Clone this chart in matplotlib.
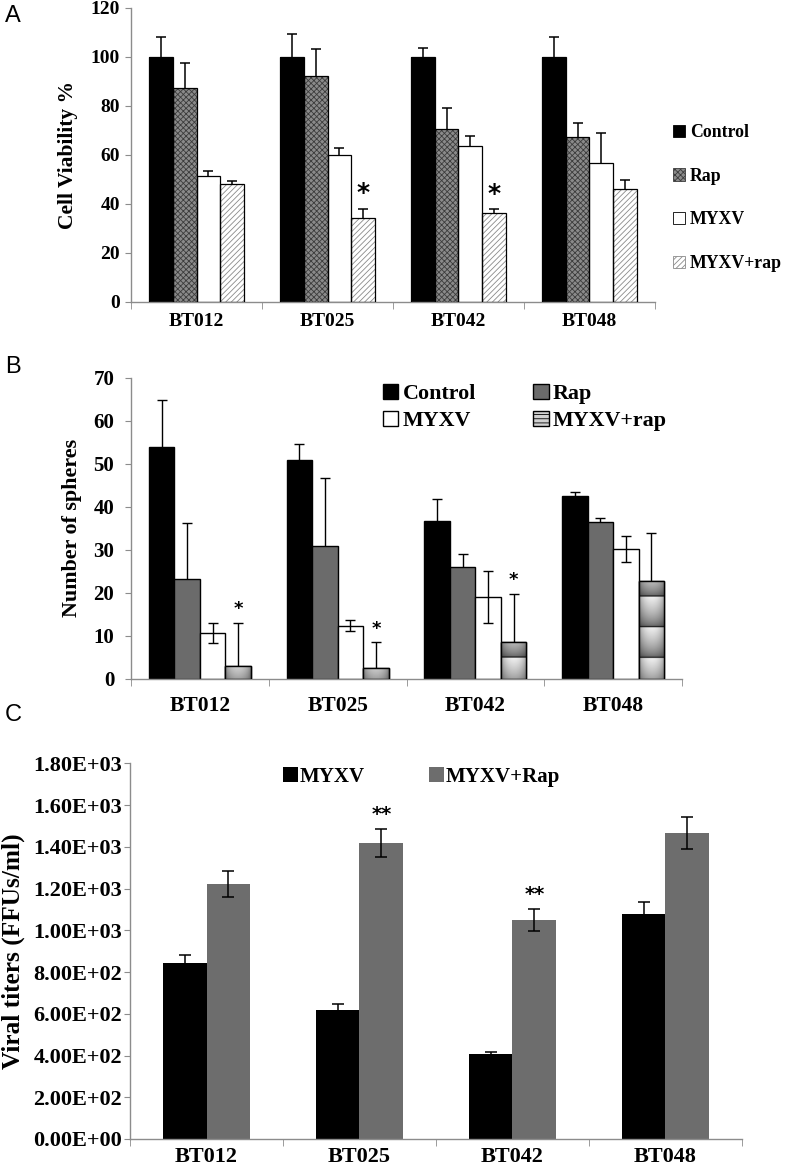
"""
plot.py - three-panel figure: cell viability (A), sphere counts (B), viral titers (C).
"""

import matplotlib.pyplot as plt
import numpy as np
from matplotlib.patches import Patch

plt.rcParams["font.family"] = ["Liberation Serif", "DejaVu Serif"]
plt.rcParams["font.weight"] = "bold"
plt.rcParams["axes.labelweight"] = "bold"
plt.rcParams["hatch.linewidth"] = 0.6

lines = ["BT012", "BT025", "BT042", "BT048"]

# panel A: cell viability (%)
a_groups = ["Control", "Rap", "MYXV", "MYXV+rap"]
a_control = [100, 100, 100, 100]
a_rap = [87.2, 92.4, 70.6, 67.5]
a_myxv = [51.6, 60.0, 63.8, 56.9]
a_combo = [48.0, 34.3, 36.5, 46.3]
a_control_err = [8.0, 9.2, 3.5, 8.3]
a_rap_err = [10.5, 11.0, 8.7, 5.6]
a_myxv_err = [2.0, 3.0, 4.0, 12.0]
a_combo_err = [1.5, 3.7, 1.3, 3.3]
a_star = ["", "*", "*", ""]

# panel B: number of spheres
b_groups = ["Control", "Rap", "MYXV", "MYXV+rap"]
b_control = [53.8, 50.9, 36.7, 42.6]
b_rap = [23.3, 30.8, 26.1, 36.4]
b_myxv = [10.6, 12.4, 19.0, 30.2]
b_combo = [3.1, 2.6, 8.7, 22.7]
b_control_err = [10.9, 3.7, 5.2, 0.8]
b_rap_err = [12.9, 15.9, 2.9, 0.9]
b_myxv_err = [2.3, 1.2, 6.0, 3.1]
b_combo_err = [10.0, 6.0, 11.1, 11.2]
b_star = ["*", "*", "*", ""]

# panel C: viral titers (FFUs/ml)
c_groups = ["MYXV", "MYXV+Rap"]
c_myxv = [841, 619, 406, 1077]
c_rap = [1223, 1418, 1049, 1465]
c_myxv_err = [42, 29, 13, 58]
c_rap_err = [62, 68, 51, 77]
c_star = ["", "**", "**", ""]

AXIS_GREY = "#8c8c8c"
x = np.arange(len(lines))


def style_axis(ax, ymax, step, ytick_size, xtick_size, ypad, xpad, fmt=None):
    ax.set_xlim(-0.5, len(lines) - 0.5)
    ax.set_ylim(0, ymax)
    ax.set_yticks(np.arange(0, ymax + step / 2, step))
    if fmt:
        ax.set_yticklabels([fmt(v) for v in ax.get_yticks()])
    ax.set_xticks(x, lines)
    ax.set_xticks(np.arange(-0.5, len(lines)), minor=True)
    ax.tick_params(axis="x", which="major", length=0, labelsize=xtick_size, pad=xpad)
    ax.tick_params(axis="x", which="minor", length=5, color=AXIS_GREY)
    ax.tick_params(axis="y", length=4, color=AXIS_GREY, labelsize=ytick_size, pad=ypad)
    ax.spines[["top", "right"]].set_visible(False)
    for s in ["left", "bottom"]:
        ax.spines[s].set_color(AXIS_GREY)
        ax.spines[s].set_linewidth(1.0)


fig = plt.figure(figsize=(7.86, 11.7), dpi=100)

# ---------------- panel A ----------------
axA = fig.add_axes([0.1667, 0.7419, 0.6666, 0.2513])
w = 0.18
a_vals = [a_control, a_rap, a_myxv, a_combo]
a_errs = [a_control_err, a_rap_err, a_myxv_err, a_combo_err]
a_face = ["black", "#8a8a8a", "white", "white"]
a_hatch = [None, "xxxxxx", None, "//////"]
a_hcol = ["black", "#3c3c3c", "black", "#8a8a8a"]
for i, (vals, errs) in enumerate(zip(a_vals, a_errs)):
    pos = x + (i - 1.5) * w
    axA.bar(pos, vals, w, color=a_face[i], edgecolor=a_hcol[i], hatch=a_hatch[i],
            linewidth=0, zorder=2)
    axA.bar(pos, vals, w, fill=False, edgecolor="black", linewidth=0.9, zorder=3)
    axA.errorbar(pos, vals, yerr=errs, fmt="none", ecolor="black", elinewidth=1.1,
                 capsize=3.5, capthick=1.1, zorder=1)
for j, s in enumerate(a_star):
    if s:
        axA.text(x[j] + 1.5 * w, a_combo[j] + a_combo_err[j] + 1.5, s, ha="center",
                 va="bottom", fontsize=18, family="DejaVu Sans")
style_axis(axA, 120, 20, 14, 14, ypad=4, xpad=8)
axA.set_ylabel("Cell Viability %", fontsize=15.5, labelpad=9)
a_handles = [Patch(facecolor=a_face[i], edgecolor=a_hcol[i] if a_hatch[i] else "black",
                   hatch=a_hatch[i], linewidth=0.6) for i in range(4)]
axA.legend(a_handles, a_groups, loc="upper left", frameon=False, fontsize=12.8,
           bbox_to_anchor=(673 / 786, 1 - 124 / 1170), bbox_transform=fig.transFigure,
           handlelength=0.7, handleheight=0.7, handletextpad=0.25, labelspacing=1.5,
           borderpad=0, borderaxespad=0)

# ---------------- panel B ----------------
axB = fig.add_axes([0.1667, 0.4197, 0.7010, 0.2575])
w = 0.185
b_vals = [b_control, b_rap, b_myxv, b_combo]
b_errs = [b_control_err, b_rap_err, b_myxv_err, b_combo_err]
b_face = ["black", "#6b6b6b", "white", "#c8c8c8"]

# banded metallic texture for the MYXV+rap bars (period ~7 units, dark line at each band start)
tex_y = np.linspace(0, 70, 1400)
t = ((tex_y - 4.9) % 7.1) / 7.1
profile = 0.32 + 0.62 * t ** 0.6
profile[t < 0.035] = 0.05
u = np.linspace(0, 1, 40)
shade = 0.55 + 0.45 * np.sin(np.pi * u) ** 0.5
texture = profile[:, None] * shade[None, :]

for i, (vals, errs) in enumerate(zip(b_vals, b_errs)):
    pos = x + (i - 1.5) * w
    bars = axB.bar(pos, vals, w, color=b_face[i], edgecolor="black", linewidth=1.0,
                   zorder=2)
    if i == 3:
        for b in bars:
            im = axB.imshow(texture, extent=[b.get_x(), b.get_x() + w, 0, 70],
                            origin="lower", cmap="gray", vmin=0, vmax=1,
                            aspect="auto", zorder=2.5, interpolation="bilinear")
            im.set_clip_path(b)
            axB.bar(b.get_x() + w / 2, b.get_height(), w, fill=False,
                    edgecolor="black", linewidth=1.0, zorder=3)
    axB.errorbar(pos, vals, yerr=errs, fmt="none", ecolor="black", elinewidth=1.0,
                 capsize=3.5, capthick=1.0, zorder=4 if i == 2 else 1)
for j, s in enumerate(b_star):
    if s:
        axB.text(x[j] + 1.5 * w, b_combo[j] + b_combo_err[j] + 1.0, s, ha="center",
                 va="bottom", fontsize=13, family="DejaVu Sans")
style_axis(axB, 70, 10, 15, 15.5, ypad=8, xpad=12)
axB.set_ylabel("Number of spheres", fontsize=15.8, labelpad=8)
b_handles = [Patch(facecolor="black", edgecolor="black"),
             Patch(facecolor="white", edgecolor="black"),
             Patch(facecolor="#6b6b6b", edgecolor="black"),
             Patch(facecolor="#d0d0d0", edgecolor="black", hatch="----")]
axB.legend(b_handles, ["Control", "MYXV", "Rap", "MYXV+rap"], ncol=2, loc="upper left",
           frameon=False, fontsize=15.8, bbox_to_anchor=(383 / 786, 1 - 384 / 1170),
           bbox_transform=fig.transFigure, handlelength=0.7, handleheight=0.7,
           handletextpad=0.2, labelspacing=0.28, columnspacing=2.6, borderpad=0,
           borderaxespad=0)
axB.set_ylim(0, 70)

# ---------------- panel C ----------------
axC = fig.add_axes([0.1654, 0.0265, 0.7786, 0.3211])
w = 0.285
c_vals = [c_myxv, c_rap]
c_errs = [c_myxv_err, c_rap_err]
c_face = ["black", "#6d6d6d"]
for i, (vals, errs) in enumerate(zip(c_vals, c_errs)):
    pos = x + (i - 0.5) * w
    axC.bar(pos, vals, w, color=c_face[i], linewidth=0, zorder=2)
    axC.errorbar(pos, vals, yerr=errs, fmt="none", ecolor="black", elinewidth=1.1,
                 capsize=4, capthick=1.1, zorder=3)
for j, s in enumerate(c_star):
    if s:
        axC.text(x[j] + 0.5 * w, c_rap[j] + c_rap_err[j] + 25, s, ha="center",
                 va="bottom", fontsize=14, family="DejaVu Sans")
style_axis(axC, 1800, 200, 16, 16, ypad=1.5, xpad=6, fmt=lambda v: f"{v:.2E}")
axC.set_ylabel("Viral titers (FFUs/ml)", fontsize=18.3, labelpad=6)
c_handles = [Patch(facecolor=c) for c in c_face]
axC.legend(c_handles, c_groups, ncol=2, loc="upper left", frameon=False, fontsize=15,
           bbox_to_anchor=(283 / 786, 1 - 767 / 1170), bbox_transform=fig.transFigure,
           handlelength=0.7, handleheight=0.7, handletextpad=0.1, columnspacing=3.1,
           borderpad=0, borderaxespad=0)

# panel letters
for label, ypix in [("A", 22), ("B", 373), ("C", 721)]:
    fig.text(5 / 786, 1 - ypix / 1170, label, fontsize=17, fontweight="normal",
             family="Liberation Sans", va="baseline")

fig.savefig("out.png", dpi=100)
